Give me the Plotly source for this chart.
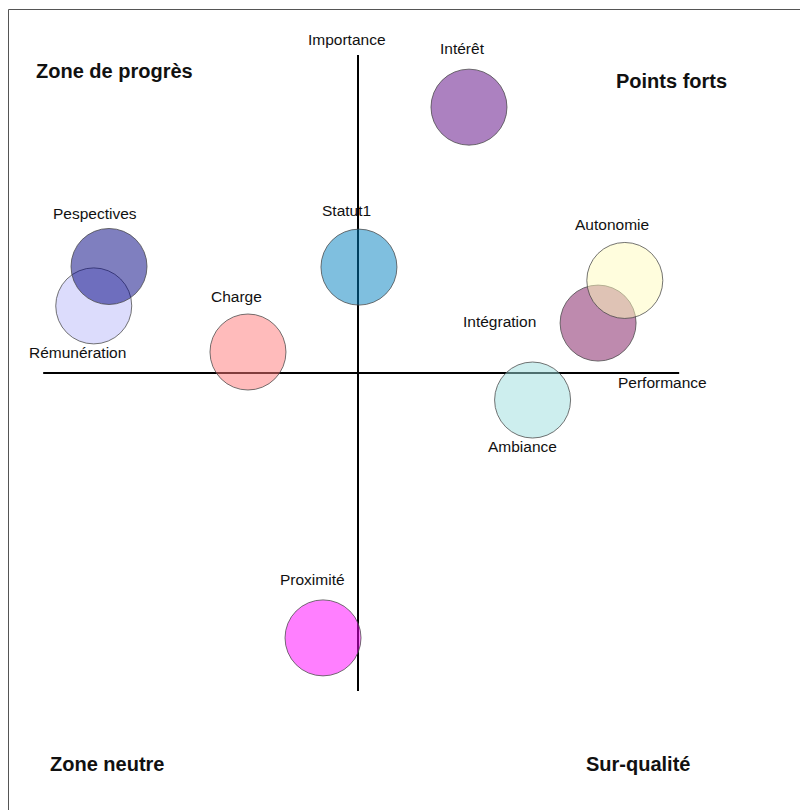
import plotly.graph_objects as go

# Bubble data (performance on x, importance on y), drawing order matters for overlaps
names = ["Intérêt", "Statut1", "Rémunération", "Pespectives", "Charge",
         "Intégration", "Autonomie", "Ambiance", "Proximité"]
performance = [34.9, 0.3, -83.1, -78.3, -34.6, 75.5, 83.9, 54.9, -11.0]
importance = [83.6, 33.3, 21.1, 33.5, 6.6, 15.7, 29.1, -8.5, -83.3]
colours = [
    "rgba(89,3,129,0.5)",
    "rgba(0,127,191,0.5)",
    "rgba(185,185,249,0.5)",
    "rgba(0,0,128,0.5)",
    "rgba(255,119,119,0.5)",
    "rgba(125,21,93,0.5)",
    "rgba(255,251,187,0.5)",
    "rgba(155,221,221,0.5)",
    "rgba(255,0,255,0.5)",
]
# label offsets in pixels relative to bubble centre
label_shift = [(-6, 59), (-12, 57), (-16, -47), (-14, 53), (-11, 56),
               (-99, 2), (-13, 56), (-10, -46), (-11, 58)]

quadrants = ["Zone de progrès", "Points forts", "Zone neutre", "Sur-qualité"]
quadrant_pos = [(106 / 808, 1 - 63 / 810), (663 / 808, 1 - 73 / 810),
                (99 / 808, 1 - 756 / 810), (630 / 808, 1 - 756 / 810)]

PX = 3.18  # pixels per unit
OX, OY = 350, 365  # pixel position of the axes crossing inside the figure
FONT = "Liberation Sans, Arial, sans-serif"

fig = go.Figure(
    go.Scatter(
        x=performance,
        y=importance,
        mode="markers",
        marker=dict(size=76, color=colours,
                    line=dict(width=1, color="rgba(70,70,70,0.75)")),
        hovertext=names,
        hoverinfo="text",
        showlegend=False,
    )
)

annotations = []
for name, x, y, (dx, dy) in zip(names, performance, importance, label_shift):
    annotations.append(dict(x=x, y=y, text=name, showarrow=False,
                            xshift=dx, yshift=dy,
                            font=dict(size=15.5, color="#111", family=FONT)))

annotations.append(dict(x=0, y=100, text="Importance", showarrow=False,
                        xshift=-11, yshift=16,
                        font=dict(size=15.5, color="#111", family=FONT)))
annotations.append(dict(x=101, y=0, text="Performance", showarrow=False,
                        xshift=-17, yshift=-9,
                        font=dict(size=15.5, color="#111", family=FONT)))

for text, (px_, py_) in zip(quadrants, quadrant_pos):
    annotations.append(dict(x=px_, y=py_, xref="paper", yref="paper",
                            xanchor="center", yanchor="middle",
                            text=f"<b>{text}</b>", showarrow=False,
                            font=dict(size=20, color="#111", family=FONT)))

shapes = [
    dict(type="line", x0=-99, x1=101, y0=0, y1=0, layer="below",
         line=dict(color="black", width=2)),
    dict(type="line", x0=0, x1=0, y0=-100, y1=100, layer="below",
         line=dict(color="black", width=2)),
    dict(type="rect", xref="paper", yref="paper",
         x0=0.5 / 808, x1=1.02, y0=-0.02, y1=1 - 1.5 / 810,
         line=dict(color="#555", width=1)),
]

fig.update_layout(
    width=808,
    height=810,
    margin=dict(l=0, r=0, t=0, b=0),
    paper_bgcolor="white",
    plot_bgcolor="white",
    xaxis=dict(range=[-OX / PX, (808 - OX) / PX], visible=False, fixedrange=True),
    yaxis=dict(range=[-(810 - OY) / PX, OY / PX], visible=False, fixedrange=True),
    annotations=annotations,
    shapes=shapes,
)

fig.write_html("out.html")
